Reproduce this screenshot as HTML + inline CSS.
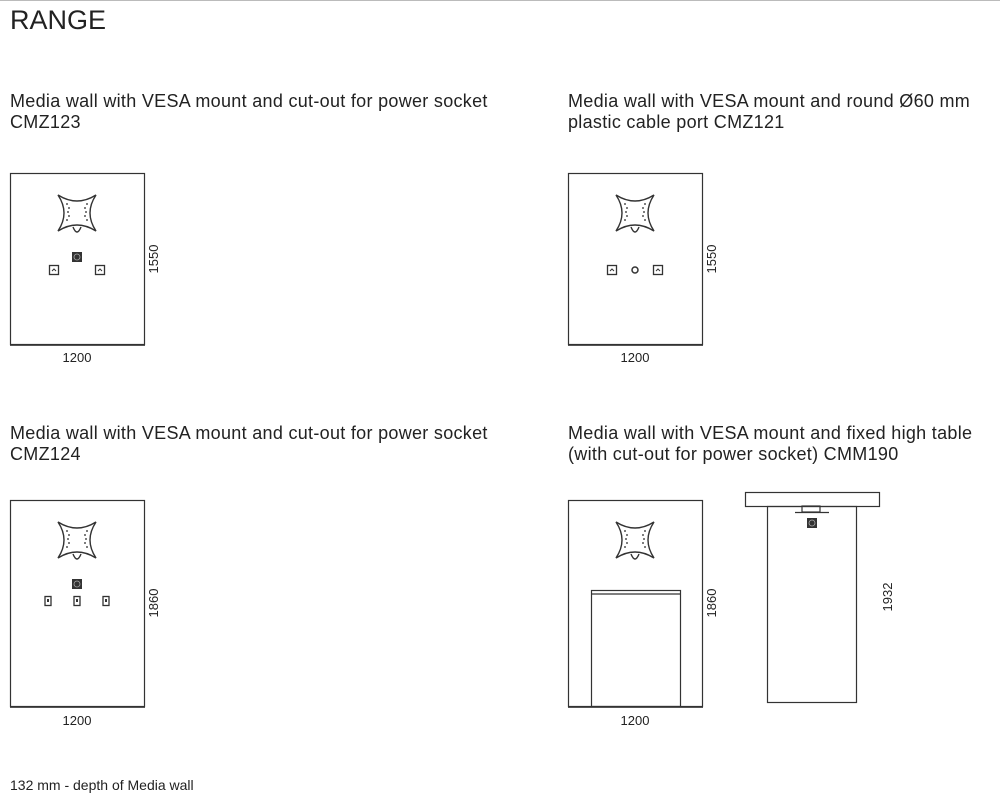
<!DOCTYPE html>
<html><head><meta charset="utf-8"><style>
html,body{margin:0;padding:0;background:#fff;width:1000px;height:809px;overflow:hidden}
svg{display:block}
text{font-family:"Liberation Sans",sans-serif;fill:#222}
</style></head><body>
<svg width="1000" height="809" viewBox="0 0 1000 809">
<defs>
<g id="vesa">
<path d="M-19 -18 Q0 -6 19 -18 Q7 0 19 18 Q0 6 -19 18 Q-7 0 -19 -18Z" fill="#fff" stroke="#333" stroke-width="1.4"/>
<g fill="#555"><circle cx="-10" cy="-9" r="1"/><circle cx="-8" cy="-5" r="1"/><circle cx="-9" cy="-1" r="1"/><circle cx="-8" cy="3" r="1"/><circle cx="-10" cy="7" r="1"/><circle cx="10" cy="-9" r="1"/><circle cx="8" cy="-5" r="1"/><circle cx="9" cy="-1" r="1"/><circle cx="8" cy="3" r="1"/><circle cx="10" cy="7" r="1"/></g>
<path d="M-4 14 Q0 24 4 14" fill="#fff" stroke="#333" stroke-width="1.4"/>
</g>
<g id="psq"><rect x="-5" y="-5" width="10" height="10" fill="#333"/><circle r="3" fill="none" stroke="#aaa" stroke-width="0.8"/></g>
<g id="out"><rect x="-4.5" y="-4.5" width="9" height="9" fill="#fff" stroke="#333" stroke-width="1.3"/><path d="M-2 1 L0 -1 L2 1" fill="none" stroke="#333"/></g>
<g id="out2"><rect x="-3" y="-4.5" width="6" height="9" fill="#fff" stroke="#333" stroke-width="1.3"/><rect x="-1" y="-2" width="2" height="3" fill="#333"/></g>
</defs>
<line x1="0" y1="0.5" x2="1000" y2="0.5" stroke="#bbb"/>
<text x="10" y="29" font-size="27">RANGE</text>
<g font-size="18" letter-spacing="0.3">
<text x="10" y="107">Media wall with VESA mount and cut-out for power socket</text>
<text x="10" y="128">CMZ123</text>
<text x="568" y="107">Media wall with VESA mount and round Ø60 mm</text>
<text x="568" y="128">plastic cable port CMZ121</text>
<text x="10" y="439">Media wall with VESA mount and cut-out for power socket</text>
<text x="10" y="460">CMZ124</text>
<text x="568" y="439">Media wall with VESA mount and fixed high table</text>
<text x="568" y="460">(with cut-out for power socket) CMM190</text>
</g>
<text x="10" y="790" font-size="14">132 mm - depth of Media wall</text>
<g fill="none" stroke="#333" stroke-width="1.2">
<rect x="10.5" y="173.5" width="134" height="171"/>
<rect x="568.5" y="173.5" width="134" height="171"/>
<rect x="10.5" y="500.5" width="134" height="206"/>
<rect x="568.5" y="500.5" width="134" height="206"/>
<rect x="591.5" y="590.5" width="89" height="116"/>
<line x1="591" y1="594" x2="680" y2="594"/>
<rect x="745.5" y="492.5" width="134" height="14"/>
<rect x="767.5" y="506.5" width="89" height="196"/>
<rect x="802" y="506" width="18" height="6"/>
<line x1="795" y1="512.5" x2="829" y2="512.5"/>
</g>
<g stroke="#555" stroke-width="1">
<line x1="10" y1="345.5" x2="145" y2="345.5"/>
<line x1="568" y1="345.5" x2="703" y2="345.5"/>
<line x1="10" y1="707.5" x2="145" y2="707.5"/>
<line x1="568" y1="707.5" x2="703" y2="707.5"/>
</g>
<use href="#vesa" x="77" y="213"/>
<use href="#vesa" x="635" y="213"/>
<use href="#vesa" x="77" y="540"/>
<use href="#vesa" x="635" y="540"/>
<use href="#psq" x="77" y="257"/>
<use href="#out" x="54" y="270"/>
<use href="#out" x="100" y="270"/>
<use href="#out" x="612" y="270"/>
<use href="#out" x="658" y="270"/>
<circle cx="635" cy="270" r="3" fill="none" stroke="#333" stroke-width="1.5"/>
<use href="#psq" x="77" y="584"/>
<use href="#out2" x="48" y="601"/>
<use href="#out2" x="77" y="601"/>
<use href="#out2" x="106" y="601"/>
<use href="#psq" x="812" y="523"/>
<g font-size="13">
<text x="77" y="362" text-anchor="middle">1200</text>
<text x="635" y="362" text-anchor="middle">1200</text>
<text x="77" y="725" text-anchor="middle">1200</text>
<text x="635" y="725" text-anchor="middle">1200</text>
<text transform="translate(158,259) rotate(-90)" text-anchor="middle">1550</text>
<text transform="translate(716,259) rotate(-90)" text-anchor="middle">1550</text>
<text transform="translate(158,603) rotate(-90)" text-anchor="middle">1860</text>
<text transform="translate(716,603) rotate(-90)" text-anchor="middle">1860</text>
<text transform="translate(892,597) rotate(-90)" text-anchor="middle">1932</text>
</g>
</svg>
</body></html>
